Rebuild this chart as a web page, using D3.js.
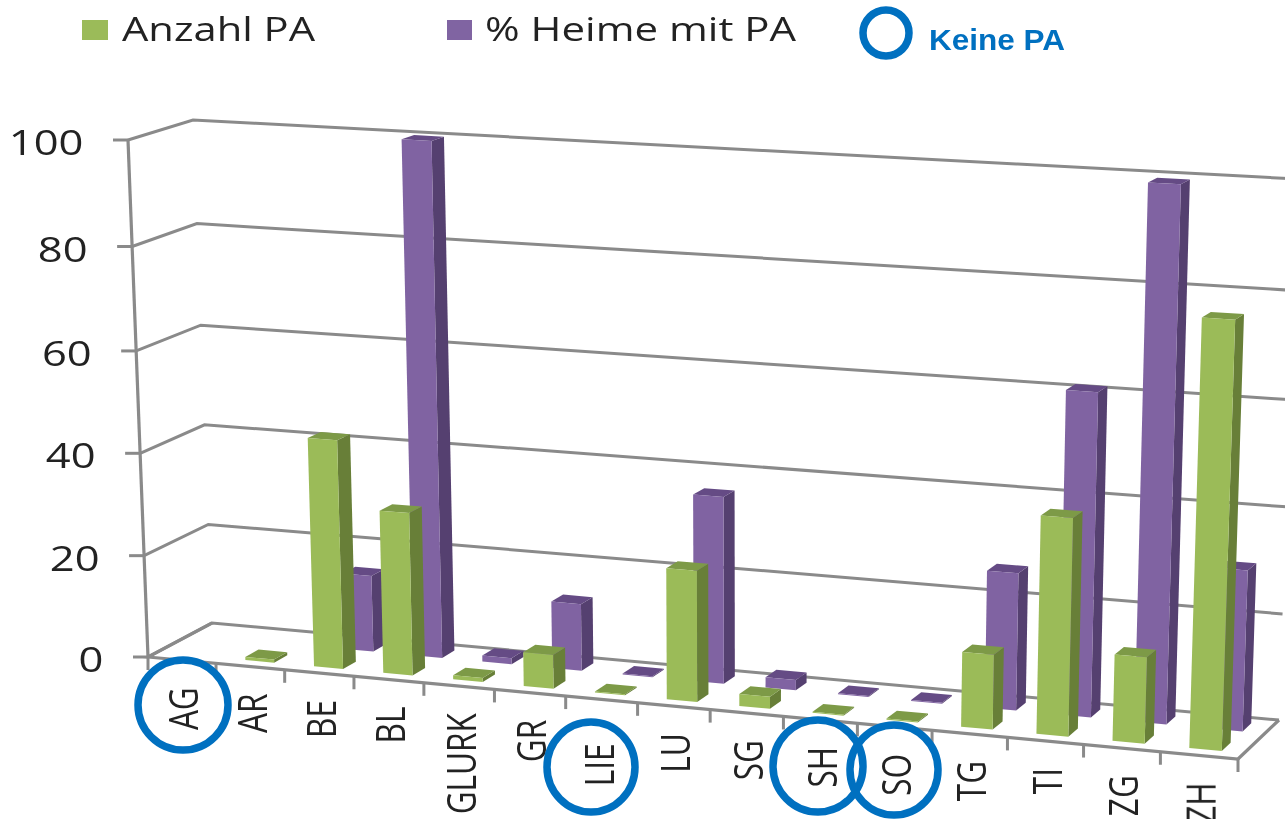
<!DOCTYPE html>
<html>
<head>
<meta charset="utf-8">
<script src="https://d3js.org/d3.v7.min.js"></script>
<style>
  html, body { margin: 0; background: #fff; overflow: hidden; }
  svg { display: block; }
  text { font-family: "Open Sans", sans-serif; fill: #222; }
</style>
</head>
<body>
<div id="container"></div>
<script>
/* DATA */
const cantons = ["AG", "AR", "BE", "BL", "GLURK", "GR", "LIE", "LU", "SG", "SH", "SO", "TG", "TI", "ZG", "ZH"];
const anzahlPA = [0, 0.6, 44.5, 31.5, 0.8, 6.5, 0.2, 25, 2.3, 0.2, 0.2, 14, 40.5, 16, 78.5];
const heimeMitPA = [0, 0, 15, 100, 1.2, 13, 0.2, 36, 2, 0.2, 0.2, 26, 61, 99.5, 30];
const yTicks = [0, 20, 40, 60, 80, 100];
const yTickFractions = [0, 0.196, 0.394, 0.592, 0.794, 1];
const keinePA = ["AG", "LIE", "SH", "SO"];

/* CONSTANTS AND GLOBALS */
const width = 1285, height = 819;
const green = {front: "#9bbb59", side: "#677f38", top: "#7d9a47"};
const purple = {front: "#8064a2", side: "#553f6f", top: "#654c85"};
const gridColor = "#8a8a8a", blue = "#0070c0";

// corners of the floor and of the plane at 100: front left, front right, back right, back left
const floorQuad = [[148, 657], [1238, 759], [1279, 720], [212, 623]];
const topQuad = [[128, 140], [1256, 202], [1297, 179], [193, 120]];

// unit square to quad
function homography(q) {
  const [p0, p1, p2, p3] = q;
  const sx = p0[0] - p1[0] + p2[0] - p3[0], sy = p0[1] - p1[1] + p2[1] - p3[1];
  const dx1 = p1[0] - p2[0], dx2 = p3[0] - p2[0], dy1 = p1[1] - p2[1], dy2 = p3[1] - p2[1];
  const den = dx1 * dy2 - dx2 * dy1;
  const g = (sx * dy2 - dx2 * sy) / den, h = (dx1 * sy - sx * dy1) / den;
  const a = p1[0] - p0[0] + g * p1[0], b = p3[0] - p0[0] + h * p3[0];
  const d = p1[1] - p0[1] + g * p1[1], e = p3[1] - p0[1] + h * p3[1];
  return (u, w) => {
    const z = g * u + h * w + 1;
    return [(a * u + b * w + p0[0]) / z, (d * u + e * w + p0[1]) / z];
  };
}
const floorAt = homography(floorQuad), topAt = homography(topQuad);

/* SCALES */
const xScale = d3.scaleLinear().domain([0, cantons.length]).range([0, 1]);
const yScale = d3.scaleLinear().domain(yTicks).range(yTickFractions);

function project(i, v, w) {
  const f = floorAt(xScale(i), w), t = topAt(xScale(i), w), k = yScale(v);
  return [f[0] + (t[0] - f[0]) * k, f[1] + (t[1] - f[1]) * k];
}
const line = d3.line();

/* HTML ELEMENTS */
const svg = d3.select("#container").append("svg")
  .attr("width", width).attr("height", height);

const defs = svg.append("defs");
defs.append("filter").attr("id", "soft")
  .append("feGaussianBlur").attr("stdDeviation", 0.7);
defs.append("filter").attr("id", "softText")
  .append("feGaussianBlur").attr("stdDeviation", 0.45);

const chart = svg.append("g").attr("filter", "url(#soft)");
const labels = svg.append("g").attr("filter", "url(#softText)");

// gridlines: left wall then back wall
chart.selectAll(".grid").data(yTicks).join("path")
  .attr("class", "grid")
  .attr("fill", "none").attr("stroke", gridColor).attr("stroke-width", 3)
  .attr("d", d => line([project(0, d, 0), project(0, d, 1), project(cantons.length, d, 1)]));

// floor
chart.append("path")
  .attr("fill", "none").attr("stroke", gridColor).attr("stroke-width", 3.2)
  .attr("d", line([project(0, 0, 1), project(0, 0, 0), project(cantons.length, 0, 0), project(cantons.length, 0, 1)]));

// y axis line
chart.append("path")
  .attr("fill", "none").attr("stroke", gridColor).attr("stroke-width", 3.2)
  .attr("d", line([project(0, 0, 0), project(0, 100, 0)]));

chart.selectAll(".ytick").data(yTicks).join("path")
  .attr("class", "ytick")
  .attr("stroke", gridColor).attr("stroke-width", 3)
  .attr("d", d => { const p = project(0, d, 0); return line([[p[0] - 15, p[1]], p]); });

// category ticks on the front edge
chart.selectAll(".xtick").data(d3.range(cantons.length + 1)).join("path")
  .attr("class", "xtick")
  .attr("stroke", gridColor).attr("stroke-width", 3)
  .attr("d", d => { const p = project(d, 0, 0); return line([p, [p[0], p[1] + 13]]); });

// one bar: right side, top, front
function drawBars(values, colors, w0, w1) {
  const bars = chart.append("g").selectAll("g")
    .data(values.map((v, i) => ({v, i})).filter(d => d.v > 0))
    .join("g");
  const barW = 0.21;
  bars.append("path").attr("fill", colors.side)
    .attr("d", d => line([
      project(d.i + 0.5 + barW, 0, w0), project(d.i + 0.5 + barW, 0, w1),
      project(d.i + 0.5 + barW, d.v, w1), project(d.i + 0.5 + barW, d.v, w0)]) + "Z");
  bars.append("path").attr("fill", colors.top)
    .attr("d", d => line([
      project(d.i + 0.5 - barW, d.v, w0), project(d.i + 0.5 + barW, d.v, w0),
      project(d.i + 0.5 + barW, d.v, w1), project(d.i + 0.5 - barW, d.v, w1)]) + "Z");
  bars.append("path").attr("fill", colors.front)
    .attr("d", d => line([
      project(d.i + 0.5 - barW, 0, w0), project(d.i + 0.5 + barW, 0, w0),
      project(d.i + 0.5 + barW, d.v, w0), project(d.i + 0.5 - barW, d.v, w0)]) + "Z");
}
drawBars(heimeMitPA, purple, 0.65, 0.86);
drawBars(anzahlPA, green, 0.15, 0.36);

// y labels
labels.selectAll(".ylabel").data(yTicks).join("text")
  .attr("class", "ylabel")
  .attr("text-anchor", "end")
  .attr("font-size", 34)
  .attr("transform", d => {
    const p = project(0, d, 0);
    return `translate(${p[0] - 44.5},${p[1] + 15}) scale(1.28,1)`;
  })
  .text(d => d);

// category labels, rotated. LIE sits lower and further left in the original
const labelShift = {LIE: [-4, 17]};
labels.selectAll(".xlabel").data(cantons).join("text")
  .attr("class", "xlabel")
  .attr("text-anchor", "end")
  .attr("font-size", 41)
  .attr("transform", (d, i) => {
    const p = project(i + 0.5, 0, 0);
    const s = labelShift[d] || [0, 0];
    return `translate(${p[0] + 16.5 + s[0]},${p[1] + 27 + s[1]}) rotate(-90) scale(0.77,1)`;
  })
  .text(d => d);

// circles around the cantons without PA
const circleCenters = {AG: [183, 705, 45, 45], LIE: [591, 767, 44, 45], SH: [818, 766, 45, 46], SO: [894, 770, 44, 45]};
svg.selectAll(".keine").data(keinePA).join("ellipse")
  .attr("class", "keine")
  .attr("fill", "none").attr("stroke", blue).attr("stroke-width", 7.5)
  .attr("cx", d => circleCenters[d][0]).attr("cy", d => circleCenters[d][1])
  .attr("rx", d => circleCenters[d][2]).attr("ry", d => circleCenters[d][3]);

/* LEGEND */
const legend = svg.append("g");
legend.append("rect").attr("x", 82).attr("y", 20).attr("width", 26).attr("height", 20).attr("fill", green.front);
legend.append("text").attr("x", 122).attr("y", 41).attr("font-size", 32).attr("filter", "url(#softText)")
  .attr("textLength", 193).attr("lengthAdjust", "spacingAndGlyphs").text("Anzahl PA");
legend.append("rect").attr("x", 447).attr("y", 20).attr("width", 25).attr("height", 20).attr("fill", purple.front);
legend.append("text").attr("x", 485).attr("y", 41).attr("font-size", 32).attr("filter", "url(#softText)")
  .attr("textLength", 311).attr("lengthAdjust", "spacingAndGlyphs").text("% Heime mit PA");
legend.append("circle").attr("cx", 886).attr("cy", 33).attr("r", 23)
  .attr("fill", "none").attr("stroke", blue).attr("stroke-width", 7.5);
legend.append("text").attr("x", 929).attr("y", 50)
  .attr("font-size", 29).attr("font-weight", "bold")
  .style("font-family", "'Liberation Sans', sans-serif").style("fill", blue)
  .attr("textLength", 136).attr("lengthAdjust", "spacingAndGlyphs").text("Keine PA");
</script>
</body>
</html>
